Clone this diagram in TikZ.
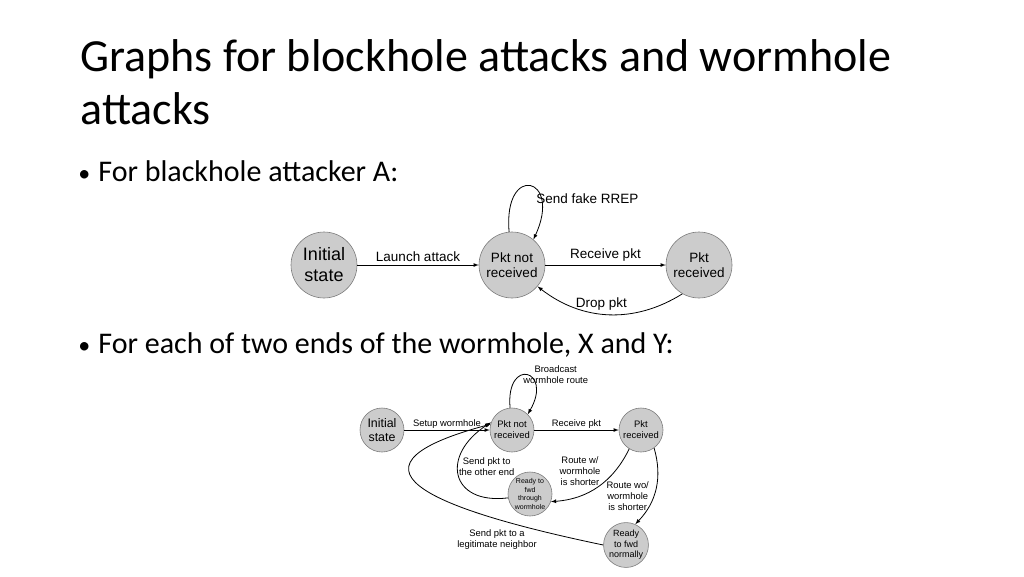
\documentclass[tikz,border=0pt]{standalone}
\usepackage{fontspec}
\setmainfont{Carlito}
\newfontfamily\helv{Liberation Sans}
\usetikzlibrary{arrows,automata}

\definecolor{nodefill}{RGB}{204,204,204}
\definecolor{nodeline}{RGB}{125,125,125}

\tikzset{
  every state/.style={draw=nodeline,fill=nodefill,line width=0.6pt,inner sep=0pt,align=center},
  bigstate/.style={state,minimum size=66pt,font=\helv\fontsize{13.5}{15.5}\selectfont},
  smallstate/.style={state,minimum size=44pt,font=\helv\fontsize{9.4}{11}\selectfont},
  biglabel/.style={font=\helv\fontsize{13.5}{15.5}\selectfont},
  smalllabel/.style={font=\helv\fontsize{9.4}{11}\selectfont,align=center,inner sep=1pt},
  slidetext/.style={anchor=base west,inner sep=0pt},
}

\begin{document}
\begin{tikzpicture}[->,>=latex,line width=0.8pt,auto,x=1pt,y=-1pt]
    \fill[white] (0,0) rectangle (1024,576);
    \useasboundingbox (0,0) rectangle (1024,576);

    % slide text
    \node[slidetext,font=\fontsize{46}{54}\selectfont] (title) at (80,71)
      {Graphs for blockhole attacks and wormhole};
    \node[slidetext,font=\fontsize{46}{54}\selectfont] (title2) at (80,124) {attacks};
    \node[slidetext,font=\fontsize{30}{36}\selectfont] (bullet1) at (78,181)
      {\makebox[20pt][l]{\fontsize{24}{24}\selectfont\textbullet}For blackhole attacker A:};
    \node[slidetext,font=\fontsize{30}{36}\selectfont] (bullet2) at (78,353)
      {\makebox[20pt][l]{\fontsize{24}{24}\selectfont\textbullet}For each of two ends of the wormhole, X and Y:};

    % blackhole attacker
    \node[bigstate,font=\helv\fontsize{18}{21}\selectfont] (init) at (324,265) {Initial\\state};
    \node[bigstate] (pn) at (512,265) {Pkt not\\received};
    \node[bigstate] (pr) at (699,265) {Pkt\\received};
    \path (init) edge node[biglabel] {Launch attack} (pn);
    \path (pn) edge node[biglabel] {Receive pkt} (pr);
    \path (pn.95) edge[out=95,in=65,looseness=7] node[biglabel,pos=0.72,anchor=west,xshift=-8pt] {Send fake RREP} (pn.50);
    \path (pr.240) edge[bend left=35] node[biglabel,pos=0.55,above] {Drop pkt} (pn.-40);

    % wormhole ends X and Y
    \node[smallstate,font=\helv\fontsize{12.4}{14.5}\selectfont] (init2) at (382,430) {Initial\\state};
    \node[smallstate] (pn2) at (512,430) {Pkt not\\received};
    \node[smallstate] (pr2) at (641,430) {Pkt\\received};
    \node[smallstate,font=\helv\fontsize{7}{8.5}\selectfont] (rt) at (530,494) {Ready to\\fwd\\through\\wormhole};
    \node[smallstate,font=\helv\fontsize{9}{10.5}\selectfont] (rn) at (626,545) {Ready\\to fwd\\normally};
    \path (init2) edge node[smalllabel] {Setup wormhole} (pn2);
    \path (pn2) edge node[smalllabel] {Receive pkt} (pr2);
    \path (pn2.95) edge[out=95,in=60,looseness=7] node[smalllabel,pos=0.5,anchor=west,xshift=-5pt] {Broadcast\\wormhole route} (pn2.45);
    \path (pr2.238) edge[bend left=30] node[smalllabel,swap,xshift=4pt] {Route w/\\wormhole\\is shorter} (rt.-20);
    \path (pr2.-54) edge[bend left=30] node[smalllabel,swap,pos=0.82,xshift=5pt] {Route wo/\\wormhole\\is shorter} (rn.66);
    \draw (rt.190) .. controls (450,505) and (440,455) .. node[smalllabel,pos=0.5,anchor=west,xshift=-1pt,yshift=8pt] {Send pkt to\\the other end} (pn2.160);
    \draw (rn.180) .. controls (450,513) and (320,470) .. node[smalllabel,pos=0.25,below=9pt] {Send pkt to a\\legitimate neighbor} (pn2.165);
\end{tikzpicture}
\end{document}
